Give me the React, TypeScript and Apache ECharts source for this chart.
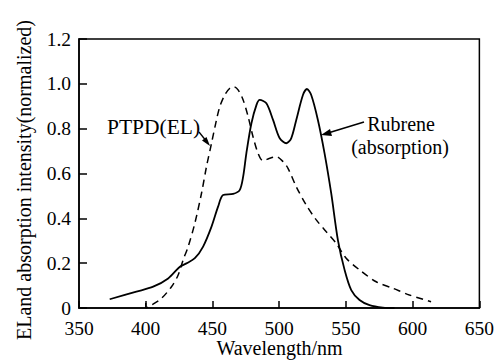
import React, { useEffect, useRef } from "react";
import * as echarts from "echarts";

const rubreneWl = [373, 393, 405.6, 416.8, 425.6, 430.5, 436.8, 443, 449.3, 454.2, 458, 465.5, 470.4, 473, 475.4, 479.2, 483, 485.4, 490.4, 495.4, 500.4, 505.4, 509, 512.8, 517.8, 520.8, 524, 529, 534, 539, 544, 549, 554, 560.2, 567.7, 577.7, 586.4];
const rubreneAbs = [0.039, 0.073, 0.095, 0.132, 0.184, 0.199, 0.222, 0.274, 0.363, 0.452, 0.504, 0.509, 0.526, 0.586, 0.69, 0.824, 0.906, 0.928, 0.913, 0.839, 0.757, 0.735, 0.757, 0.839, 0.95, 0.977, 0.95, 0.839, 0.69, 0.511, 0.303, 0.17, 0.08, 0.036, 0.013, 0.002, 0];

const ptpdWl = [400, 400.3, 404.4, 411.8, 419.3, 424.3, 428, 431.8, 436.8, 441.8, 445.5, 449.3, 453, 455.5, 459.2, 463, 466, 469.2, 473, 476.7, 480.4, 484.2, 487.9, 492.9, 497.9, 502.9, 506.6, 512.8, 520.3, 527.8, 535.3, 542.8, 550.2, 560.2, 572.7, 585.2, 597.6, 613.8];
const ptpdEl = [0.022, 0.0, 0.013, 0.043, 0.095, 0.147, 0.214, 0.274, 0.378, 0.512, 0.63, 0.735, 0.839, 0.898, 0.95, 0.98, 0.987, 0.973, 0.928, 0.854, 0.764, 0.69, 0.657, 0.668, 0.675, 0.653, 0.623, 0.541, 0.459, 0.393, 0.34, 0.288, 0.222, 0.17, 0.117, 0.088, 0.058, 0.028];

const xMin = 350, xMax = 650, xStep = 50;
const yMin = 0, yMax = 1.2, yStep = 0.2;
const xTitle = "Wavelength/nm";
const yTitle = "ELand absorption intensity(normalized)";
const labelPtpd = "PTPD(EL)";
const labelRubrene1 = "Rubrene";
const labelRubrene2 = "(absorption)";

const FONT = "Liberation Serif";

export default function App() {
  const ref = useRef<HTMLDivElement>(null);
  useEffect(() => {
    if (!ref.current) return;
    document.body.style.margin = "0";
    const chart = echarts.init(ref.current, null, { renderer: "svg" });
    const txt = { fontFamily: FONT, fontSize: 20, fill: "#000" };
    chart.setOption({
      animation: false,
      backgroundColor: "#fff",
      textStyle: { fontFamily: FONT },
      grid: { left: 79, right: 17, top: 39, bottom: 52, show: true, borderColor: "#000", borderWidth: 1.5, backgroundColor: "transparent" },
      xAxis: {
        type: "value", min: xMin, max: xMax, interval: xStep,
        axisLine: { show: true, lineStyle: { color: "#000", width: 1.5 } },
        axisTick: { show: true, inside: true, length: 7, lineStyle: { color: "#000", width: 1.5 } },
        axisLabel: { color: "#000", fontFamily: FONT, fontSize: 19.5, lineHeight: 16, margin: 12 },
        splitLine: { show: false },
      },
      yAxis: {
        type: "value", min: yMin, max: yMax, interval: yStep,
        axisLine: { show: true, lineStyle: { color: "#000", width: 1.5 } },
        axisTick: { show: true, inside: true, length: 8, lineStyle: { color: "#000", width: 1.5 } },
        axisLabel: {
          color: "#000", fontFamily: FONT, fontSize: 19.5, lineHeight: 16, margin: 8, padding: [0, 0, 2, 0],
          formatter: (v: number) => (v === 0 ? "0" : v.toFixed(1)),
        },
        splitLine: { show: false },
      },
      series: [
        {
          name: "Rubrene (absorption)", type: "line", smooth: 0.3, symbol: "none",
          data: rubreneWl.map((w, i) => [w, rubreneAbs[i]]),
          lineStyle: { color: "#000", width: 1.8 },
        },
        {
          name: "PTPD (EL)", type: "line", smooth: 0.3, symbol: "none",
          data: ptpdWl.map((w, i) => [w, ptpdEl[i]]),
          lineStyle: { color: "#000", width: 1.5, type: [7, 5] },
        },
      ],
      graphic: [
        { type: "text", x: 24, y: 180, rotation: Math.PI / 2, style: { ...txt, text: yTitle, align: "center", verticalAlign: "middle" } },
        { type: "text", x: 279.5, y: 348, style: { ...txt, text: xTitle, align: "center", verticalAlign: "middle" } },
        { type: "text", x: 107, y: 127, style: { ...txt, fontSize: 21.5, text: labelPtpd, align: "left", verticalAlign: "middle" } },
        { type: "text", x: 401, y: 124, style: { ...txt, fontSize: 20, text: labelRubrene1, align: "center", verticalAlign: "middle" } },
        { type: "text", x: 400, y: 146.5, style: { ...txt, fontSize: 20, text: labelRubrene2, align: "center", verticalAlign: "middle" } },
        { type: "line", shape: { x1: 199, y1: 132, x2: 207, y2: 142 }, style: { stroke: "#000", lineWidth: 1.3 } },
        { type: "polygon", shape: { points: [[210, 146], [202, 140.5], [206.5, 137]] }, style: { fill: "#000" } },
        { type: "line", shape: { x1: 364, y1: 122, x2: 328, y2: 133 }, style: { stroke: "#000", lineWidth: 1.5 } },
        { type: "polygon", shape: { points: [[321, 135], [330, 129], [332, 136]] }, style: { fill: "#000" } },
      ],
    });
    return () => chart.dispose();
  }, []);
  return <div ref={ref} style={{ width: 497, height: 360 }} />;
}
